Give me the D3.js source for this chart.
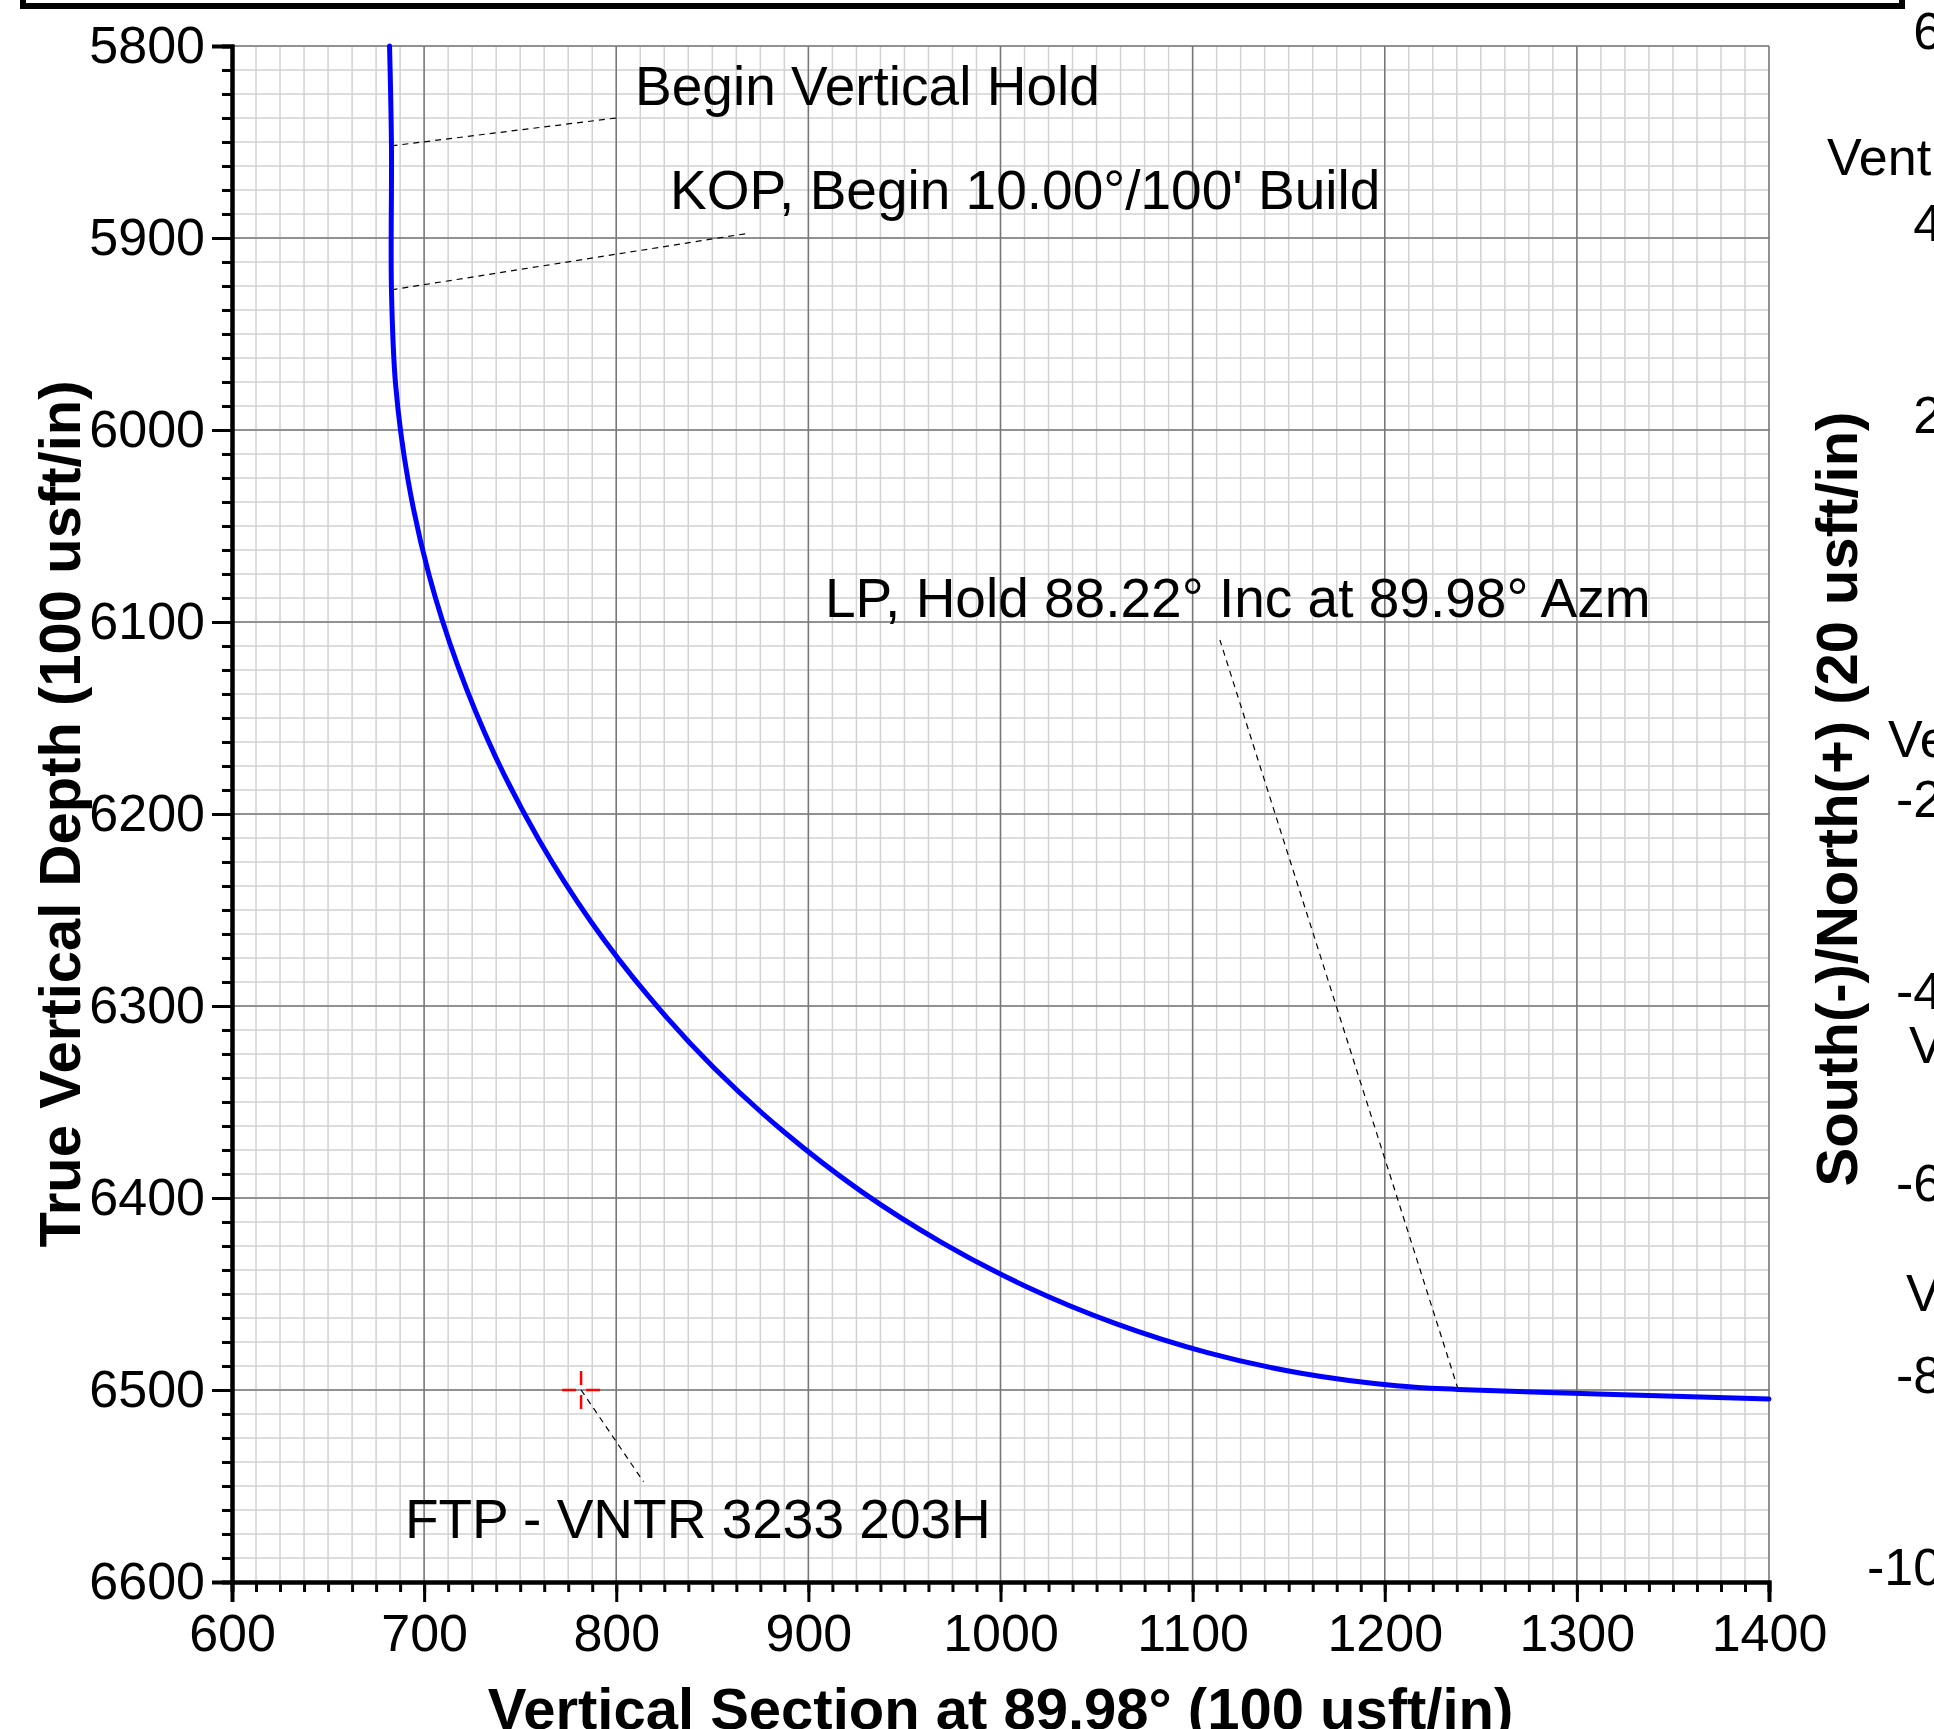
<!DOCTYPE html>
<html>
<head>
<meta charset="utf-8">
<script src="https://cdn.jsdelivr.net/npm/d3@7"></script>
<style>
  body { margin: 0; background: #fff; }
  svg { display: block; font-family: "Liberation Sans", Arial, sans-serif; }
</style>
</head>
<body>
<div id="chart"></div>
<script>
// well path: vertical section (usft) and true vertical depth (usft)
var surveyVS  = [682, 683, 683, 685.2, 691.7, 702.5, 717.6, 736.7, 759.8, 786.6, 817.1, 850.8,
                 887.7, 927.3, 969.5, 1013.8, 1060.0, 1107.7, 1156.5, 1206.1, 1238.2, 1400];
var surveyTVD = [5800, 5852, 5927, 5976.9, 6026.5, 6075.3, 6123.0, 6169.2, 6213.5, 6255.7, 6295.3, 6332.2,
                 6365.9, 6396.4, 6423.2, 6446.3, 6465.4, 6480.5, 6491.3, 6497.8, 6499.7, 6504.7];

// annotated points
var annoText = ["Begin Vertical Hold", "KOP, Begin 10.00°/100' Build", "LP, Hold 88.22° Inc at 89.98° Azm", "FTP - VNTR 3233 203H"];
var annoVS   = [683, 683, 1238.2, 781.7];
var annoTVD  = [5852, 5927, 6499.7, 6500];

var xTicks = [600, 700, 800, 900, 1000, 1100, 1200, 1300, 1400];
var yTicks = [5800, 5900, 6000, 6100, 6200, 6300, 6400, 6500, 6600];
// labels of the neighbouring plan view, cut off by the right edge
var sideTicks = ["600", "400", "200", "0", "-200", "-400", "-600", "-800", "-1000"];

var W = 1934, H = 1729;
var pLeft = 232, pRight = 1769, pTop = 46, pBottom = 1582;

var svg = d3.select("#chart").append("svg")
  .attr("width", W)
  .attr("height", H);

var x = d3.scaleLinear().domain([600, 1400]).range([pLeft, pRight]);
var y = d3.scaleLinear().domain([5800, 6600]).range([pTop, pBottom]);

var minorX = d3.range(600, 1400.1, 12.5);
var minorY = d3.range(5800, 6600.1, 12.5);

// frame of the sheet above
svg.append("rect")
  .attr("x", 23).attr("y", -50).attr("width", 1879).attr("height", 56)
  .attr("fill", "none").attr("stroke", "#000").attr("stroke-width", 6);

// grid
var grid = svg.append("g");
grid.selectAll("line.mx").data(minorX).enter().append("line")
  .attr("x1", function(d) { return x(d); }).attr("x2", function(d) { return x(d); })
  .attr("y1", pTop).attr("y2", pBottom)
  .attr("stroke", "#d2d2d2").attr("stroke-width", 1.5);
grid.selectAll("line.my").data(minorY).enter().append("line")
  .attr("y1", function(d) { return y(d); }).attr("y2", function(d) { return y(d); })
  .attr("x1", pLeft).attr("x2", pRight)
  .attr("stroke", "#d2d2d2").attr("stroke-width", 1.5);
grid.selectAll("line.Mx").data(xTicks).enter().append("line")
  .attr("x1", function(d) { return x(d); }).attr("x2", function(d) { return x(d); })
  .attr("y1", pTop).attr("y2", pBottom)
  .attr("stroke", "#777").attr("stroke-width", 1.5);
grid.selectAll("line.My").data(yTicks).enter().append("line")
  .attr("y1", function(d) { return y(d); }).attr("y2", function(d) { return y(d); })
  .attr("x1", pLeft).attr("x2", pRight)
  .attr("stroke", "#777").attr("stroke-width", 1.5);

// leader lines
var labelPos = [[809.8, 5830.7], [828, 5884.9], [908.6, 6097.4], [690, 6577]];
var leaderEnd = [[799.9, 5837.5], [869.6, 5897.4], [1114.2, 6109.4], [814.2, 6547.8]];
svg.selectAll("line.leader").data(annoVS).enter().append("line")
  .attr("x1", function(d) { return x(d); })
  .attr("y1", function(d, i) { return y(annoTVD[i]); })
  .attr("x2", function(d, i) { return x(leaderEnd[i][0]); })
  .attr("y2", function(d, i) { return y(leaderEnd[i][1]); })
  .attr("stroke", "#000").attr("stroke-width", 1.2)
  .attr("stroke-dasharray", "6,5");

// well path
var line = d3.line()
  .x(function(d) { return x(d[0]); })
  .y(function(d) { return y(d[1]); })
  .curve(d3.curveCatmullRom);
svg.append("path")
  .datum(surveyVS.map(function(v, i) { return [v, surveyTVD[i]]; }))
  .attr("d", line)
  .attr("fill", "none").attr("stroke", "#0000ff").attr("stroke-width", 5)
  .attr("stroke-linecap", "round");

// FTP target cross
var cx = x(annoVS[3]), cy = y(annoTVD[3]);
var cross = svg.append("g").attr("stroke", "#ff0000").attr("stroke-width", 2.5);
[[-19, -5], [5, 19]].forEach(function(s) {
  cross.append("line").attr("x1", cx + s[0]).attr("x2", cx + s[1]).attr("y1", cy).attr("y2", cy);
  cross.append("line").attr("y1", cy + s[0]).attr("y2", cy + s[1]).attr("x1", cx).attr("x2", cx);
});

// annotation text
svg.selectAll("text.anno").data(annoText).enter().append("text")
  .attr("x", function(d, i) { return x(labelPos[i][0]); })
  .attr("y", function(d, i) { return y(labelPos[i][1]); })
  .attr("font-size", 55)
  .text(function(d) { return d; });

// axes
var yAxis = svg.append("g").attr("transform", "translate(" + pLeft + ",0)")
  .call(d3.axisLeft(y).tickValues(yTicks).tickSize(20).tickPadding(7).tickFormat(d3.format("d")));
var yMinor = svg.append("g").attr("transform", "translate(" + pLeft + ",0)")
  .call(d3.axisLeft(y).tickValues(minorY).tickSize(10).tickFormat(""));
var xAxis = svg.append("g").attr("transform", "translate(0," + pBottom + ")")
  .call(d3.axisBottom(x).tickValues(xTicks).tickSize(20).tickPadding(12).tickFormat(d3.format("d")));
var xMinor = svg.append("g").attr("transform", "translate(0," + pBottom + ")")
  .call(d3.axisBottom(x).tickValues(minorX).tickSize(10).tickFormat(""));

[yAxis, yMinor, xAxis, xMinor].forEach(function(a) {
  a.select(".domain").attr("stroke", "#000").attr("stroke-width", 4);
  a.selectAll(".tick line").attr("stroke", "#000").attr("stroke-width", 3);
  a.selectAll("text").attr("font-size", 52).attr("font-family", "Liberation Sans, Arial, sans-serif").attr("fill", "#000");
});

// axis titles
svg.append("text")
  .attr("transform", "translate(80," + ((pTop + pBottom) / 2) + ") rotate(-90)")
  .attr("text-anchor", "middle")
  .attr("font-size", 58).attr("font-weight", "bold")
  .text("True Vertical Depth (100 usft/in)");
svg.append("text")
  .attr("x", (pLeft + pRight) / 2).attr("y", 1729)
  .attr("text-anchor", "middle")
  .attr("font-size", 58).attr("font-weight", "bold")
  .text("Vertical Section at 89.98° (100 usft/in)");

// neighbouring plan view, mostly off the sheet
svg.append("text")
  .attr("transform", "translate(1857,799) rotate(-90)")
  .attr("text-anchor", "middle")
  .attr("font-size", 58).attr("font-weight", "bold")
  .text("South(-)/North(+) (20 usft/in)");
svg.selectAll("text.side").data(sideTicks).enter().append("text")
  .attr("x", 2000)
  .attr("y", function(d, i) { return y(yTicks[i]) + 3; })
  .attr("text-anchor", "end")
  .attr("font-size", 52)
  .text(function(d) { return d; });
var sideNames = [["Vent", 1827, 175], ["Ve", 1888, 757], ["V", 1909, 1063], ["V", 1906, 1311]];
svg.selectAll("text.sname").data(sideNames).enter().append("text")
  .attr("x", function(d) { return d[1]; })
  .attr("y", function(d) { return d[2]; })
  .attr("font-size", 52)
  .text(function(d) { return d[0]; });
</script>
</body>
</html>
